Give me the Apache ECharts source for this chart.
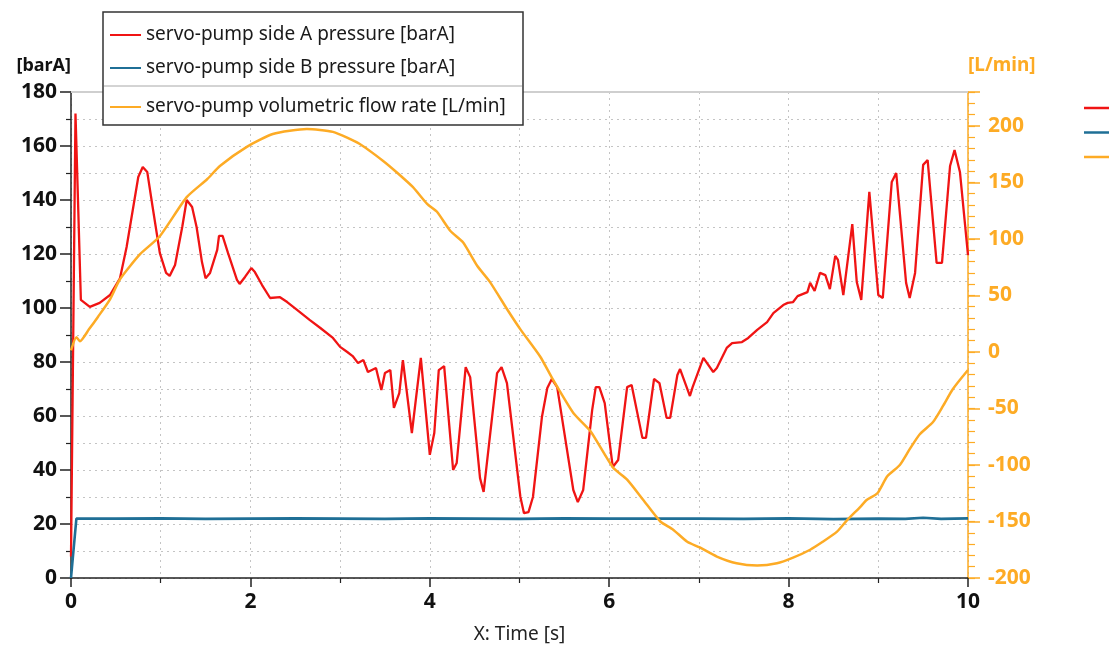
<!DOCTYPE html>
<html>
<head>
<meta charset="utf-8">
<script src="https://cdn.jsdelivr.net/npm/echarts@6/dist/echarts.min.js"></script>
<style>
html,body{margin:0;padding:0;background:#fff;}
#c{width:1109px;height:646px;}
</style>
</head>
<body>
<div id="c"></div>
<script>
// ---- data ----
const nameA = 'servo-pump side A pressure [barA]';
const nameB = 'servo-pump side B pressure [barA]';
const nameF = 'servo-pump volumetric flow rate [L/min]';

const redT = [0,0.05,0.11,0.21,0.32,0.435,0.546,0.62,0.75,0.80,0.85,0.91,0.99,1.06,1.10,1.16,1.24,1.29,1.35,1.40,1.46,1.50,1.55,1.63,1.65,1.69,1.75,1.85,1.88,1.94,2.01,2.05,2.13,2.22,2.33,2.41,2.52,2.66,2.78,2.92,3.00,3.08,3.14,3.20,3.26,3.31,3.40,3.46,3.50,3.56,3.60,3.66,3.70,3.80,3.90,4.00,4.05,4.10,4.16,4.26,4.30,4.40,4.45,4.56,4.60,4.75,4.80,4.86,5.01,5.05,5.10,5.15,5.25,5.31,5.36,5.42,5.60,5.65,5.71,5.81,5.85,5.89,5.95,6.04,6.10,6.20,6.25,6.37,6.41,6.50,6.56,6.64,6.68,6.76,6.79,6.90,6.93,7.05,7.16,7.20,7.31,7.37,7.48,7.55,7.65,7.76,7.83,7.94,7.99,8.05,8.10,8.21,8.24,8.29,8.35,8.41,8.46,8.52,8.55,8.61,8.71,8.76,8.81,8.90,9.00,9.05,9.15,9.20,9.31,9.35,9.41,9.50,9.55,9.65,9.71,9.80,9.85,9.91,10.00];
const redV = [8,172,103,100.4,101.9,104.8,111,122.6,148.5,152.2,150.4,137.4,120.4,113,111.9,115.9,130,140,137.4,130,117,111,113,121.5,126.7,126.7,120.4,110.4,108.9,111.5,114.8,113.3,108.5,103.7,104,102.2,99.3,95.6,92.6,88.9,85.6,83.7,82.2,79.6,80.7,76.3,77.8,69.6,75.9,77.0,63,68.5,80.7,53.7,81.5,45.6,53.7,77,78.5,40,42.6,78.1,74.4,37,31.9,75.9,78.1,72.2,30,24,24.4,30,59.6,70.4,73.7,70.7,32.6,28.1,32.6,62.2,70.7,70.7,64.8,41.1,43.7,70.7,71.5,51.9,51.9,73.7,72.2,59.3,59.3,75.2,77.4,67.4,70.7,81.5,76.3,77.8,85.2,87,87.4,88.9,91.9,94.8,98.1,101.1,101.9,102.2,104.4,105.9,109.3,106.3,113,112.2,107,119.3,117.8,104.8,131.1,109.6,103,143,104.8,103.7,146.7,150,109.3,103.7,113,153,154.8,116.7,116.7,152.6,158.5,150.4,119.6];

const blueT = [0,0.06,0.5,1,1.5,2,2.5,3,3.5,4,4.5,5,5.5,6,6.5,7,7.5,8,8.5,9,9.3,9.5,9.7,10];
const blueV = [0,22,22,22.1,21.9,22,22.1,22,21.9,22.1,22,21.9,22.1,22,22,22,21.9,22.1,21.8,22,21.9,22.3,21.9,22.1];

const flowT = [0,0.06,0.1,0.2,0.3,0.435,0.546,0.77,0.99,1.29,1.52,1.66,1.96,2.25,2.63,2.92,3.22,3.48,3.63,3.81,3.97,4.08,4.23,4.37,4.53,4.67,4.86,5.01,5.23,5.37,5.60,5.79,6.04,6.20,6.38,6.57,6.71,6.87,7.01,7.20,7.42,7.65,7.87,8.05,8.24,8.38,8.54,8.65,8.80,8.87,8.99,9.10,9.24,9.35,9.46,9.61,9.72,9.83,10];
const flowV = [1.3,13,9.5,20,31,46.6,64.3,86.5,102.4,137,153,164.5,181.4,192.9,197.3,194.7,184,169,159,146,131,124,107,97,76,62,38,20,-4,-24,-54,-70,-102,-113,-131,-150,-157,-168,-173,-181,-187,-189,-187,-182,-175,-168,-159,-149,-137,-131,-125,-110,-100,-86,-73,-62,-48,-33,-16];

const xTicks = {min:0, max:10, interval:2};
const leftTicks = {min:0, max:180, interval:20};
const rightTicks = {min:-200, max:230, interval:50};

// ---- chart ----
const RED = '#f01414', BLUE = '#1f6f96', ORANGE = '#fdab25';
const FONT = 'Noto Sans';
const pairs = (t, v) => t.map((x, i) => [x, v[i]]);
const dotted = {lineStyle:{type:[2,4], color:'#c4c4c4', width:1}};
const legendText = {fontSize:19, color:'#1a1a1a', lineHeight:20, fontFamily:FONT};

const chart = echarts.init(document.getElementById('c'), null, {renderer:'canvas'});
chart.setOption({
  animation:false,
  textStyle:{fontFamily:FONT},
  grid:{left:71, right:141, top:92, bottom:68, containLabel:false, outerBoundsMode:'none'},
  graphic:{elements:[
    {type:'rect', z:10, shape:{x:103, y:12, width:420, height:113}, style:{fill:'#fff', stroke:'#333', lineWidth:1.5}},
    {type:'line', z:11, shape:{x1:104, y1:86, x2:522, y2:86}, style:{stroke:'#a8a8a8', lineWidth:1}}
  ]},
  legend:[
    {data:[nameA, nameB], orient:'vertical', left:110, top:25, padding:0, z:20,
     icon:'rect', itemWidth:31, itemHeight:2, itemGap:13, textStyle:legendText},
    {data:[nameF], orient:'vertical', left:110, top:97, padding:0, z:20,
     icon:'rect', itemWidth:31, itemHeight:2, textStyle:legendText},
    {data:[nameA, nameB, nameF], orient:'vertical', left:1084, top:98, padding:0, z:20,
     icon:'rect', itemWidth:30, itemHeight:2.5, itemGap:4.5, textStyle:legendText}
  ],
  xAxis:[
    {type:'value', position:'bottom', min:xTicks.min, max:xTicks.max, interval:xTicks.interval,
     axisLine:{onZero:false, lineStyle:{color:'#222', width:1.5}},
     axisTick:{show:true, length:9, lineStyle:{color:'#222', width:1.5}},
     minorTick:{show:true, splitNumber:2, length:5, lineStyle:{color:'#222', width:1.2}},
     axisLabel:{margin:14, fontSize:21, fontWeight:'bold', color:'#111', fontFamily:FONT},
     splitLine:Object.assign({show:true}, dotted),
     minorSplitLine:Object.assign({show:true}, dotted),
     name:'X: Time [s]', nameLocation:'middle', nameGap:47,
     nameTextStyle:{fontSize:19, color:'#222', fontFamily:FONT}},
    {type:'value', position:'top', min:xTicks.min, max:xTicks.max,
     axisLine:{show:true, onZero:false, lineStyle:{color:'#cfcfcf', width:2}},
     axisTick:{show:false}, axisLabel:{show:false}, splitLine:{show:false}}
  ],
  yAxis:[
    {type:'value', position:'left', min:leftTicks.min, max:leftTicks.max, interval:leftTicks.interval,
     axisLine:{show:true, onZero:false, lineStyle:{color:'#222', width:1.5}},
     axisTick:{show:true, length:11, lineStyle:{color:'#222', width:1.5}},
     minorTick:{show:true, splitNumber:2, length:5, lineStyle:{color:'#222', width:1.2}},
     axisLabel:{margin:14, fontSize:21, fontWeight:'bold', color:'#111', fontFamily:FONT},
     splitLine:Object.assign({show:true}, dotted),
     minorSplitLine:Object.assign({show:true}, dotted),
     name:'[barA]', nameLocation:'end', nameGap:17,
     nameTextStyle:{align:'right', fontSize:18, fontWeight:'bold', color:'#111', fontFamily:FONT}},
    {type:'value', position:'right', min:rightTicks.min, max:rightTicks.max, interval:rightTicks.interval,
     axisLine:{show:true, onZero:false, lineStyle:{color:ORANGE, width:1.5}},
     axisTick:{show:true, length:12, lineStyle:{color:ORANGE, width:1.5}},
     axisLabel:{margin:20, fontSize:21, fontWeight:'bold', color:ORANGE, fontFamily:FONT,
       formatter:v => (v % 50 === 0 ? String(v) : '')},
     splitLine:{show:false},
     name:'[L/min]', nameLocation:'end', nameGap:17,
     nameTextStyle:{align:'left', fontSize:19, fontWeight:'bold', color:ORANGE, fontFamily:FONT}},
    {type:'value', position:'right', min:rightTicks.min, max:rightTicks.max, interval:10,
     axisLine:{show:false, onZero:false},
     axisTick:{show:true, length:7, lineStyle:{color:ORANGE, width:1.2}},
     axisLabel:{show:false}, splitLine:{show:false}}
  ],
  series:[
    {name:nameA, type:'line', xAxisIndex:0, yAxisIndex:0, data:pairs(redT, redV),
     symbol:'none', lineStyle:{color:RED, width:2.3}, itemStyle:{color:RED}, z:3},
    {name:nameB, type:'line', xAxisIndex:0, yAxisIndex:0, data:pairs(blueT, blueV),
     symbol:'none', lineStyle:{color:BLUE, width:2.6}, itemStyle:{color:BLUE}, z:3},
    {name:nameF, type:'line', xAxisIndex:0, yAxisIndex:1, data:pairs(flowT, flowV),
     symbol:'none', smooth:0.2, lineStyle:{color:ORANGE, width:2.5}, itemStyle:{color:ORANGE}, z:4}
  ]
});
</script>
</body>
</html>
